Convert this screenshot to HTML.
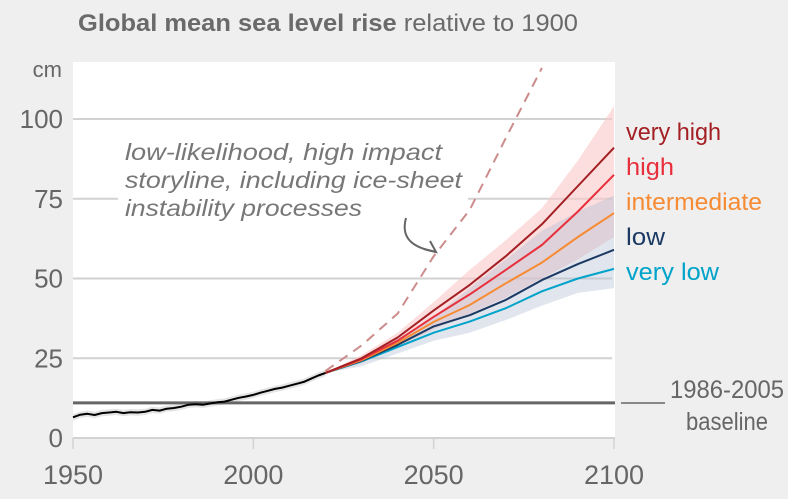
<!DOCTYPE html>
<html><head><meta charset="utf-8"><style>
body{margin:0;background:#efefef;font-family:"Liberation Sans",sans-serif;}
svg{display:block}
text{font-family:"Liberation Sans",sans-serif;}
</style></head><body>
<svg id="c" width="788" height="499">
<rect width="788" height="499" fill="#efefef"/>
<text x="78" y="31" font-size="24" fill="#6a6a6a" textLength="500" lengthAdjust="spacingAndGlyphs"><tspan font-weight="bold">Global mean sea level rise</tspan> relative to 1900</text>
<rect x="73" y="62" width="542" height="376" fill="#fff"/>
<g id="grid"></g>
<g id="marks"></g>
<rect x="118" y="134" width="350" height="88" fill="#fff"/>
<g font-style="italic" font-size="23" fill="#777">
<text x="125" y="160" textLength="317" lengthAdjust="spacingAndGlyphs">low-likelihood, high impact</text>
<text x="125" y="188" textLength="337" lengthAdjust="spacingAndGlyphs">storyline, including ice-sheet</text>
<text x="125" y="216" textLength="237" lengthAdjust="spacingAndGlyphs">instability processes</text>
</g>
<path d="M406,218 C400,240 415,248 436,252" fill="none" stroke="#666" stroke-width="2"/>
<path d="M424,249 L436,252 L430,241" fill="none" stroke="#666" stroke-width="2"/>
<g id="over"></g>
<line x1="621" y1="403" x2="665" y2="403" stroke="#666" stroke-width="1.5"/>
<text x="784" y="398" font-size="25" fill="#666" text-anchor="end" textLength="114" lengthAdjust="spacingAndGlyphs">1986-2005</text>
<text x="768" y="430" font-size="25" fill="#666" text-anchor="end" textLength="82" lengthAdjust="spacingAndGlyphs">baseline</text>
<g font-size="24">
<text x="626" y="140" fill="#a31f24" textLength="95" lengthAdjust="spacingAndGlyphs">very high</text>
<text x="626" y="175" fill="#e8303d" textLength="48" lengthAdjust="spacingAndGlyphs">high</text>
<text x="626" y="210" fill="#f68b33" textLength="136" lengthAdjust="spacingAndGlyphs">intermediate</text>
<text x="626" y="245" fill="#1c3a63" textLength="39" lengthAdjust="spacingAndGlyphs">low</text>
<text x="626" y="280" fill="#00a3c9" textLength="93" lengthAdjust="spacingAndGlyphs">very low</text>
</g>
</svg>
<script>
const yTicks=[0,25,50,75,100];
const xTicks=[1950,2000,2050,2100];
const histYears=[1950,1952,1954,1956,1958,1960,1962,1964,1966,1968,1970,1972,1974,1976,1978,1980,1982,1984,1986,1988,1990,1992,1994,1996,1998,2000,2002,2004,2006,2008,2010,2012,2014,2016,2018,2020];
const histVals=[6.5,7.3,7.6,7.2,7.8,8.0,8.2,7.8,8.1,8.0,8.2,8.8,8.6,9.2,9.4,9.8,10.4,10.6,10.4,10.8,11.2,11.4,12.0,12.6,13.0,13.5,14.2,14.8,15.4,15.8,16.4,17.0,17.6,18.6,19.6,20.4];
const projYears=[2020,2030,2040,2050,2060,2070,2080,2090,2100];
const veryHigh=[20.4,25,31.5,40,48,57,67,79,91];
const high=[20.4,24.7,30.5,38,45,52.7,60.5,71,82.5];
const intermediate=[20.4,24.4,29.8,36.4,41.7,48.5,55,63,70.5];
const low=[20.4,24.2,29.2,35,38.5,43.3,49.5,54.5,59];
const veryLow=[20.4,24,28.5,33,36.5,40.7,46,50,53];
const highBandUpper=[20.4,26,33,42.6,52.7,62,72,87,104];
const highBandLower=[20.4,23.5,28.5,34,39,44,50,56,63];
const lowBandUpper=[20.4,25,31,38,47,56,65,71,76];
const lowBandLower=[20.4,22.5,26.5,30.5,33,37,41.5,45.5,47];
const stormYears=[2020,2030,2040,2050,2060,2070,2080];
const stormVals=[21,29,39,57,71.5,94,116];
const baselineVal=11;

const X=y=>73+(y-1950)*541/150;
const Y=v=>438-v*3.19;
const NS="http://www.w3.org/2000/svg";
function mk(tag,attrs,parent){const e=document.createElementNS(NS,tag);for(const k in attrs)e.setAttribute(k,attrs[k]);parent.appendChild(e);return e;}
const grid=document.getElementById('grid'),marks=document.getElementById('marks'),over=document.getElementById('over');
yTicks.forEach(t=>{
 const l=mk('line',{x1:73,x2:t===0?615:612,y1:Y(t),y2:Y(t),stroke:'#d2d2d2','stroke-width':2},grid);
 
 
 const tx=mk('text',{x:63,y:Y(t)+9,'font-size':26,fill:'#666','text-anchor':'end'},grid);
 tx.textContent=t;
 
 
});
const cm=mk('text',{x:62,y:77,'font-size':22,fill:'#666','text-anchor':'end'},grid);
cm.textContent='cm';


xTicks.forEach(t=>{
 mk('line',{x1:X(t),x2:X(t),y1:438,y2:449,stroke:'#d2d2d2','stroke-width':1.5},grid);
 const tx=mk('text',{x:X(t),y:484,'font-size':27,fill:'#666','text-anchor':'middle'},grid);
 tx.textContent=t;
 
 
});
function pts(xs,vs){return xs.map((x,i)=>X(x).toFixed(1)+','+Y(vs[i]).toFixed(1));}
function band(up,lo,fill,name){
 const p=pts(projYears,up).concat(pts(projYears,lo).reverse());
 const e=mk('polygon',{points:p.join(' '),fill:fill},marks);
 
 
}
band(highBandUpper,highBandLower,'rgba(250,200,200,0.6)','high-uncertainty-band');
band(lowBandUpper,lowBandLower,'rgba(180,190,210,0.4)','low-uncertainty-band');
const hb=mk('polygon',{points:pts(histYears,histVals.map(v=>v+1)).concat(pts(histYears,histVals.map(v=>v-1)).reverse()).join(' '),fill:'#e4e4e4'},marks);


const bl=mk('line',{x1:73,x2:615,y1:Y(baselineVal),y2:Y(baselineVal),stroke:'#666','stroke-width':3},marks);


function line(xs,vs,col,name,extra){
 const e=mk('polyline',Object.assign({points:pts(xs,vs).join(' '),fill:'none',stroke:col,'stroke-width':2,'stroke-linejoin':'round'},extra||{}),over);
 
 
}
line(stormYears,stormVals,'#cc8c8c','storyline-dashed',{'stroke-dasharray':'10,7'});
line(histYears,histVals,'#000','historical-line');
line(projYears,veryLow,'#00a3c9','very-low-line');
line(projYears,low,'#1c3a63','low-line');
line(projYears,intermediate,'#f68b33','intermediate-line');
line(projYears,high,'#e8303d','high-line');
line(projYears,veryHigh,'#a31f24','very-high-line');
</script>
</body></html>
